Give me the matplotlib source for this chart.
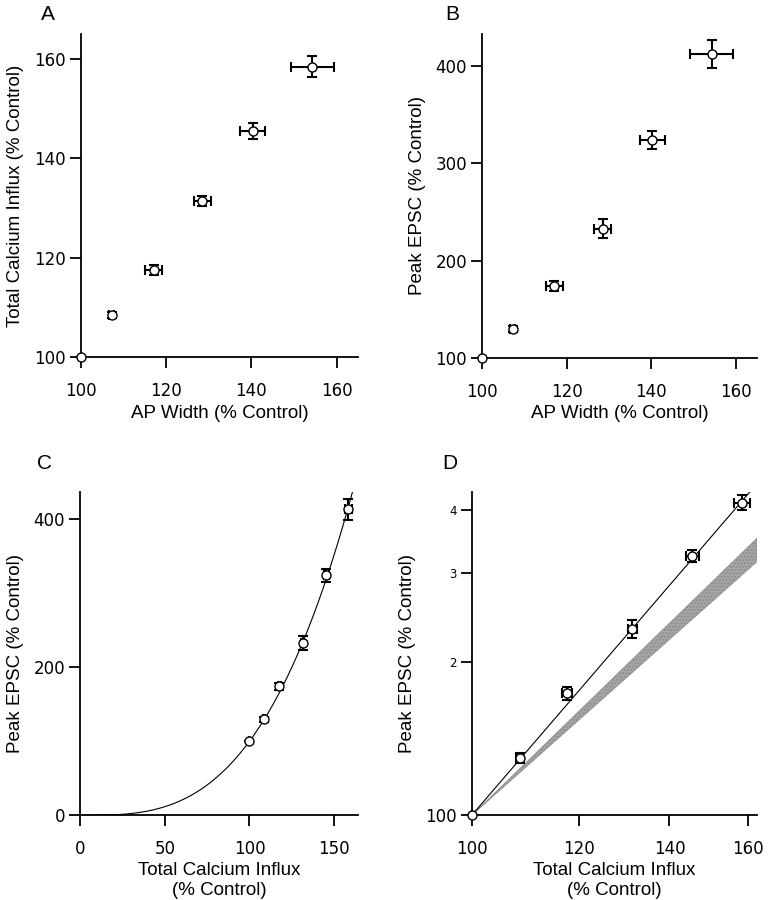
import numpy as np
import matplotlib
matplotlib.use("Agg")
import matplotlib.pyplot as plt
from matplotlib.ticker import NullLocator

plt.rcParams['font.family'] = ['Liberation Sans', 'DejaVu Sans']

# values (% of control)
ap_width = [100, 107.2, 117.1, 128.5, 140.3, 154.3]
ap_err = [0, 0.6, 2.0, 2.0, 3.0, 5.0]
ca_influx = [100, 108.5, 117.6, 131.4, 145.5, 158.4]
ca_err = [0, 0.6, 1.0, 1.0, 1.6, 2.1]
epsc = [100, 129.5, 174, 233, 324, 413]
epsc_err = [0, 3, 5, 9.5, 9, 14.5]

# power law fit (EPSC ~ Ca^n) and the shaded expected range
n_fit = 3.1
band_lo = 2.37
band_hi = 2.59

fig = plt.figure(figsize=(7.77, 9), dpi=100)
axA = fig.add_axes([0.1042, 0.6028, 0.3565, 0.3594])
axB = fig.add_axes([0.6207, 0.6026, 0.3532, 0.3593])
axC = fig.add_axes([0.1033, 0.0941, 0.3578, 0.3596])
axD = fig.add_axes([0.6071, 0.0941, 0.3668, 0.3596])

tick_fs = 12
lab_fs = 13.5


def style(ax):
    for s in ['top', 'right']:
        ax.spines[s].set_visible(False)
    for s in ['left', 'bottom']:
        ax.spines[s].set_linewidth(1.3)
    ax.tick_params(direction='out', length=8, width=1.3, labelsize=tick_fs)
    ax.tick_params(axis='x', pad=10)
    ax.tick_params(axis='y', pad=3)


def tickfont(ax):
    # wider digits, like the letter-spaced numbers of the original
    for lab in ax.get_xticklabels() + ax.get_yticklabels():
        lab.set_family('DejaVu Sans')


def points(ax, x, y, xe, ye):
    ax.errorbar(x, y, xerr=xe, yerr=ye, fmt='none', ecolor='black',
                elinewidth=1.5, capsize=3.8, capthick=1.5, clip_on=False, zorder=3)
    ax.plot(x, y, 'o', ms=6.5, mfc='white', mec='black', mew=1.0,
            clip_on=False, zorder=4)


# A
style(axA)
points(axA, ap_width, ca_influx, ap_err, ca_err)
axA.set_xlim(100, 165)
axA.set_ylim(100, 165)
axA.set_xticks([100, 120, 140, 160])
axA.set_yticks([100, 120, 140, 160])
axA.set_xlabel('AP Width (% Control)', fontsize=lab_fs, labelpad=3)
axA.set_ylabel('Total Calcium Influx (% Control)', fontsize=lab_fs, labelpad=7)
tickfont(axA)

# B
style(axB)
points(axB, ap_width, epsc, ap_err, epsc_err)
axB.set_xlim(100, 165)
axB.set_ylim(100, 433)
axB.set_xticks([100, 120, 140, 160])
axB.set_yticks([100, 200, 300, 400])
axB.set_xlabel('AP Width (% Control)', fontsize=lab_fs, labelpad=3)
axB.set_ylabel('Peak EPSC (% Control)', fontsize=lab_fs, labelpad=7)
tickfont(axB)

# C
style(axC)
xc = np.linspace(0, 165, 400)
axC.plot(xc, 100 * (xc / 100) ** n_fit, color='black', lw=0.8)
points(axC, ca_influx, epsc, ca_err, epsc_err)
axC.set_xlim(0, 164.3)
axC.set_ylim(0, 437)
axC.set_xticks([0, 50, 100, 150])
axC.set_yticks([0, 200, 400])
axC.set_xlabel('Total Calcium Influx\n(% Control)', fontsize=lab_fs, labelpad=3)
axC.set_ylabel('Peak EPSC (% Control)', fontsize=lab_fs, labelpad=7)
tickfont(axC)

# D (log-log)
style(axD)
axD.set_xscale('log')
axD.set_yscale('log')
xd = np.linspace(100, 162.4, 200)
axD.fill_between(xd, 100 * (xd / 100) ** band_lo, 100 * (xd / 100) ** band_hi,
                 facecolor='#a6a6a6', edgecolor='#8c8c8c', lw=0.5, hatch='.....',
                 zorder=1)
axD.plot(xd, 100 * (xd / 100) ** n_fit, color='black', lw=0.8, zorder=2)
points(axD, ca_influx, epsc, ca_err, epsc_err)
axD.set_xlim(100, 162.4)
axD.set_ylim(100, 434)
axD.set_xticks([100, 120, 140, 160])
axD.set_xticklabels(['100', '120', '140', '160'])
axD.set_yticks([100, 200, 300, 400])
axD.set_yticklabels(['100', '2', '3', '4'])
axD.xaxis.set_minor_locator(NullLocator())
axD.yaxis.set_minor_locator(NullLocator())
tickfont(axD)
for lab in axD.get_yticklabels()[1:]:
    lab.set_fontsize(8.5)
axD.set_xlabel('Total Calcium Influx\n(% Control)', fontsize=lab_fs, labelpad=3)
axD.set_ylabel('Peak EPSC (% Control)', fontsize=lab_fs, labelpad=6)

# panel letters
fig.text(48 / 777, 1 - 15 / 900, 'A', fontsize=15, ha='center', va='center')
fig.text(452 / 777, 1 - 15 / 900, 'B', fontsize=15, ha='center', va='center')
fig.text(45 / 777, 1 - 463 / 900, 'C', fontsize=15, ha='center', va='center')
fig.text(450 / 777, 1 - 463 / 900, 'D', fontsize=15, ha='center', va='center')

fig.savefig('out.png', dpi=100)
